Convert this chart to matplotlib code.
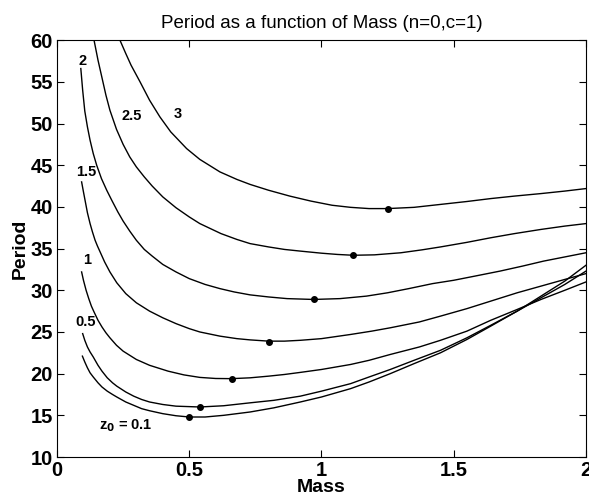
import matplotlib
matplotlib.use("Agg")
import matplotlib.pyplot as plt

plt.rcParams['font.family'] = ['Liberation Sans', 'DejaVu Sans']

# curves, one per z0
m_01 = [0.096, 0.105, 0.115, 0.125, 0.137, 0.155, 0.17, 0.19, 0.21, 0.226, 0.26, 0.29, 0.32, 0.35, 0.4,
        0.45, 0.5, 0.56, 0.63, 0.73, 0.82, 0.92, 1.0, 1.11, 1.18, 1.26, 1.35, 1.45, 1.55, 1.64, 1.74,
        1.83, 1.92, 2.0]
p_01 = [22.1, 21.4, 20.7, 20.1, 19.6, 18.9, 18.4, 17.9, 17.5, 17.2, 16.6, 16.2, 15.8, 15.55, 15.2,
        14.95, 14.8, 14.8, 15.0, 15.4, 15.9, 16.6, 17.2, 18.2, 19.0, 20.0, 21.2, 22.5, 24.1, 25.7, 27.5,
        29.3, 31.1, 33.0]

m_05 = [0.097, 0.105, 0.115, 0.125, 0.137, 0.155, 0.17, 0.19, 0.21, 0.226, 0.26, 0.29, 0.32, 0.35, 0.4,
        0.45, 0.54, 0.63, 0.73, 0.82, 0.92, 1.0, 1.11, 1.18, 1.26, 1.35, 1.45, 1.55, 1.64, 1.74, 1.83,
        1.92, 2.0]
p_05 = [24.8, 24.0, 23.2, 22.6, 22.0, 21.0, 20.3, 19.5, 18.9, 18.5, 17.8, 17.3, 16.9, 16.6, 16.3,
        16.1, 16.0, 16.15, 16.5, 16.8, 17.3, 17.9, 18.8, 19.6, 20.5, 21.6, 22.8, 24.3, 25.8, 27.5, 29.1,
        30.7, 32.3]

m_1 = [0.093, 0.1, 0.11, 0.12, 0.13, 0.14, 0.155, 0.17, 0.185, 0.2, 0.225, 0.25, 0.275, 0.3, 0.35,
       0.42, 0.48, 0.54, 0.6, 0.66, 0.73, 0.8, 0.86, 0.92, 1.0, 1.11, 1.18, 1.26, 1.37, 1.45, 1.55,
       1.64, 1.74, 1.83, 1.92, 2.0]
p_1 = [32.2, 31.2, 30.0, 29.0, 28.1, 27.4, 26.4, 25.6, 24.9, 24.3, 23.4, 22.7, 22.2, 21.7, 21.0,
       20.3, 19.85, 19.55, 19.42, 19.4, 19.5, 19.7, 19.9, 20.15, 20.5, 21.1, 21.6, 22.3, 23.2, 24.0, 25.1,
       26.4, 27.7, 28.9, 30.0, 31.0]

m_15 = [0.093, 0.1, 0.106, 0.115, 0.125, 0.134, 0.144, 0.153, 0.163, 0.18, 0.2, 0.226, 0.26, 0.3,
        0.35, 0.4, 0.45, 0.5, 0.54, 0.616, 0.68, 0.73, 0.8, 0.86, 0.92, 1.0, 1.11, 1.19, 1.26, 1.37,
        1.45, 1.55, 1.64, 1.74, 1.83, 1.92, 2.0]
p_15 = [43.0, 41.8, 40.8, 39.3, 38.0, 37.0, 36.0, 35.3, 34.6, 33.4, 32.2, 30.9, 29.6, 28.5,
        27.5, 26.7, 26.0, 25.4, 25.0, 24.5, 24.2, 24.05, 23.9, 23.9, 24.0, 24.2, 24.7, 25.1, 25.5, 26.2,
        26.9, 27.8, 28.7, 29.7, 30.5, 31.3, 32.0]

m_2 = [0.09, 0.097, 0.105, 0.115, 0.125, 0.137, 0.15, 0.168, 0.188, 0.207, 0.23, 0.25, 0.275, 0.3,
       0.33, 0.36, 0.4, 0.45, 0.5, 0.56, 0.616, 0.67, 0.73, 0.8, 0.87, 0.97, 1.07, 1.17, 1.25, 1.33,
       1.42, 1.5, 1.58, 1.675, 1.76, 1.84, 1.92, 2.0]
p_2 = [56.6, 54.0, 51.5, 49.6, 48.0, 46.4, 45.0, 43.4, 42.0, 40.8, 39.4, 38.3, 37.1, 36.0,
       34.9, 34.1, 33.1, 32.2, 31.4, 30.7, 30.2, 29.8, 29.45, 29.2, 29.0, 28.9, 29.0, 29.3, 29.7, 30.2,
       30.8, 31.2, 31.7, 32.3, 32.9, 33.5, 34.0, 34.5]

m_25 = [0.14, 0.155, 0.17, 0.185, 0.2, 0.225, 0.25, 0.275, 0.3, 0.33, 0.36, 0.4, 0.45, 0.5, 0.54,
        0.58, 0.62, 0.68, 0.73, 0.8, 0.86, 0.92, 1.0, 1.06, 1.12, 1.2, 1.3, 1.38, 1.45, 1.55, 1.64,
        1.73, 1.83, 1.92, 2.0]
p_25 = [60.0, 57.6, 55.5, 53.4, 51.6, 49.3, 47.5, 46.0, 44.8, 43.6, 42.5, 41.2, 39.9, 38.8, 38.0,
        37.4, 36.8, 36.1, 35.6, 35.2, 34.9, 34.7, 34.45, 34.3, 34.2, 34.25, 34.5, 34.85, 35.2, 35.75, 36.3,
        36.8, 37.3, 37.7, 38.0]

m_3 = [0.238, 0.26, 0.28, 0.314, 0.35, 0.389, 0.43, 0.49, 0.54, 0.616, 0.68, 0.73, 0.8, 0.88, 0.96,
       1.04, 1.11, 1.18, 1.25, 1.35, 1.45, 1.55, 1.64, 1.73, 1.83, 1.92, 2.0]
p_3 = [60.0, 58.4, 57.0, 55.0, 52.8, 50.8, 49.0, 47.0, 45.7, 44.2, 43.3, 42.7, 42.0, 41.3, 40.7,
       40.2, 39.95, 39.8, 39.8, 39.95, 40.3, 40.65, 41.0, 41.3, 41.6, 41.9, 42.2]

# minimum of each curve (the dots)
min_mass = [0.50, 0.54, 0.66, 0.80, 0.97, 1.12, 1.25]
min_period = [14.8, 16.0, 19.4, 23.8, 28.9, 34.2, 39.8]

fig = plt.figure(figsize=(5.89, 4.98), dpi=100)
ax = fig.add_axes([0.0968, 0.0823, 0.898, 0.837])

for m, p in [(m_01, p_01), (m_05, p_05), (m_1, p_1), (m_15, p_15),
             (m_2, p_2), (m_25, p_25), (m_3, p_3)]:
    ax.plot(m, p, color='black', lw=1.0)
ax.plot(min_mass, min_period, 'o', color='black', ms=4)

lbl = dict(fontsize=10.5, fontweight='bold', ha='center', va='center')
ax.text(0.098, 57.5, '2', **lbl)
ax.text(0.282, 50.9, '2.5', **lbl)
ax.text(0.455, 51.1, '3', **lbl)
ax.text(0.11, 44.2, '1.5', **lbl)
ax.text(0.115, 33.6, '1', **lbl)
ax.text(0.11, 26.2, '0.5', **lbl)
ax.text(0.26, 13.8, r'z$_{\mathbf{0}}$ = 0.1', **lbl)

ax.set_xlim(0, 2)
ax.set_ylim(10, 60)
ax.set_xticks([0, 0.5, 1, 1.5, 2])
ax.set_xticklabels(['0', '0.5', '1', '1.5', '2'])
ax.set_yticks(range(10, 61, 5))
ax.tick_params(direction='in', top=True, right=True, length=5,
               labelsize=14.5, pad=3)
for t in ax.get_xticklabels() + ax.get_yticklabels():
    t.set_fontweight('bold')

ax.set_title('Period as a function of Mass (n=0,c=1)', fontsize=13.5, pad=9)
ax.set_xlabel('Mass', fontsize=14, fontweight='bold', labelpad=-1)
ax.set_ylabel('Period', fontsize=14, fontweight='bold', labelpad=1)

fig.savefig('out.png', dpi=100)
